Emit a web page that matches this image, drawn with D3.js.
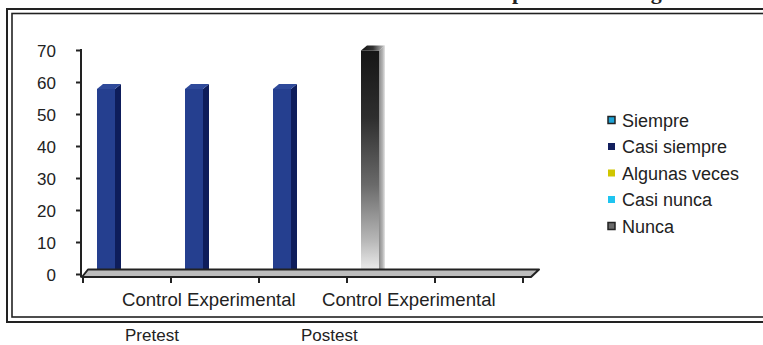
<!DOCTYPE html>
<html>
<head>
<meta charset="utf-8">
<script src="https://cdn.jsdelivr.net/npm/d3@7/dist/d3.min.js"></script>
<style>
  html, body { margin: 0; padding: 0; background: #ffffff; }
  svg { display: block; }
  text { font-family: "Liberation Sans", Arial, sans-serif; fill: #222; }
</style>
</head>
<body>
<svg id="chart" width="763" height="345"></svg>
<script>
// Category slots along the floor (the fifth slot is empty)
const categories = ["Control", "Experimental", "Control", "Experimental", ""];
const groups = ["Pretest", "Postest"];
const seriesNames = ["Siempre", "Casi siempre", "Algunas veces", "Casi nunca", "Nunca"];

// Values per series, one per category slot
const siempre      = [0, 0, 0, 0, 0];
const casiSiempre  = [58, 58, 58, 0, 0];
const algunasVeces = [0, 0, 0, 0, 0];
const casiNunca    = [0, 0, 0, 0, 0];
const nunca        = [0, 0, 0, 70, 0];

const yTicks = [0, 10, 20, 30, 40, 50, 60, 70];
const titleText = "Resultados del desempeño en la categoría";

const seriesValues = [siempre, casiSiempre, algunasVeces, casiNunca, nunca];
const rows = categories.map((c, i) => {
  const r = { idx: i };
  seriesNames.forEach((s, k) => { r[s] = seriesValues[k][i]; });
  return r;
});

const svg = d3.select("#chart");
const defs = svg.append("defs");

// Gradients for the grey/black column
const gFront = defs.append("linearGradient").attr("id", "nuncaFront")
  .attr("x1", 0).attr("y1", 0).attr("x2", 0).attr("y2", 1);
[[0, "#161616"], [0.3, "#2e2e2e"], [0.6, "#6a6a6a"], [0.85, "#b8b8b8"], [1, "#f4f4f4"]]
  .forEach(([o, c]) => gFront.append("stop").attr("offset", o).attr("stop-color", c));
const gSide = defs.append("linearGradient").attr("id", "nuncaSide")
  .attr("x1", 0).attr("y1", 0).attr("x2", 1).attr("y2", 0);
[[0, "#8a8a8a"], [0.6, "#b5b5b5"], [1, "#e6e6e6"]]
  .forEach(([o, c]) => gSide.append("stop").attr("offset", o).attr("stop-color", c));
const gTop = defs.append("linearGradient").attr("id", "nuncaTop")
  .attr("x1", 0).attr("y1", 0).attr("x2", 1).attr("y2", 0);
[[0, "#111"], [0.5, "#333"], [1, "#cfcfcf"]]
  .forEach(([o, c]) => gTop.append("stop").attr("offset", o).attr("stop-color", c));

const faceStyles = {
  "Siempre":       { front: "#2aa6d8", side: "#15607e", top: "#5cc0e6" },
  "Casi siempre":  { front: "#253f8f", side: "#0e1d5b", top: "#2f4a9a" },
  "Algunas veces": { front: "#d2c700", side: "#8d8500", top: "#e0d840" },
  "Casi nunca":    { front: "#1ec2ef", side: "#0f7fa0", top: "#60d4f4" },
  "Nunca":         { front: "url(#nuncaFront)", side: "url(#nuncaSide)", top: "url(#nuncaTop)" }
};
const swatch = {
  "Siempre":       { fill: "#1ea3d6", stroke: "#222" },
  "Casi siempre":  { fill: "#13205e", stroke: "none" },
  "Algunas veces": { fill: "#d0c600", stroke: "none" },
  "Casi nunca":    { fill: "#1ec4f0", stroke: "none" },
  "Nunca":         { fill: "#6a6a6a", stroke: "#222" }
};

// Scales
const x = d3.scaleBand().domain(d3.range(categories.length)).range([83, 523]).padding(0);
const y = d3.scaleLinear().domain([0, 70]).range([274.5, 50.5]);
const depthX = 6, depthY = -5;

// Double frame (extends past the right edge)
svg.append("rect").attr("x", 7).attr("y", 9).attr("width", 800).attr("height", 313)
  .attr("fill", "none").attr("stroke", "#222").attr("stroke-width", 2);
svg.append("rect").attr("x", 12).attr("y", 13.5).attr("width", 800).attr("height", 303.5)
  .attr("fill", "none").attr("stroke", "#222").attr("stroke-width", 1.6);

// Title (sits above the frame)
const title = svg.append("text")
  .attr("x", 0).attr("y", -1)
  .style("font-family", "'Liberation Serif', 'Times New Roman', serif")
  .style("font-weight", "bold").style("font-size", "22px")
  .text(titleText);
const pIdx = titleText.indexOf("p");
const px = title.node().getStartPositionOfChar(pIdx).x;
title.attr("x", 512 - px);

// Value axis
svg.append("line").attr("x1", 81).attr("x2", 81).attr("y1", y(70) - 1.5).attr("y2", 277.5)
  .attr("stroke", "#222").attr("stroke-width", 2);
svg.selectAll(".ytick").data(yTicks).join("line")
  .attr("x1", 76).attr("x2", 81).attr("y1", d => y(d)).attr("y2", d => y(d))
  .attr("stroke", "#222").attr("stroke-width", 2);
svg.selectAll(".ylab").data(yTicks).join("text")
  .attr("x", 56).attr("y", d => y(d) + 6)
  .attr("text-anchor", "end").style("font-size", "17px")
  .text(d => d);

// Stacked 3D columns
const stacked = d3.stack().keys(seriesNames)(rows);
const barOff = 14, barW = 18;
stacked.forEach(layer => {
  const st = faceStyles[layer.key];
  layer.forEach((seg, i) => {
    if (seg[1] - seg[0] <= 0) return;
    const x0 = x(i) + barOff, x1 = x0 + barW;
    const yt = y(seg[1]), yb = y(seg[0]);
    const g = svg.append("g");
    g.append("rect").attr("x", x0).attr("y", yt).attr("width", barW).attr("height", yb - yt)
      .attr("fill", st.front);
    g.append("path")
      .attr("d", `M${x1},${yt}L${x1 + depthX},${yt + depthY}L${x1 + depthX},${yb + depthY}L${x1},${yb}Z`)
      .attr("fill", st.side);
    g.append("path")
      .attr("d", `M${x0},${yt}L${x0 + depthX},${yt + depthY}L${x1 + depthX},${yt + depthY}L${x1},${yt}Z`)
      .attr("fill", st.top);
  });
});

// Floor slab
const fl = x.range()[0] - 1, fr = x.range()[1] + 8;
svg.append("path")
  .attr("d", `M${fl},277L${fl + 6},269.5L${fr + 8},269.5L${fr},277Z`)
  .attr("fill", "#bdbdbd").attr("stroke", "#222").attr("stroke-width", 2)
  .attr("stroke-linejoin", "round");

// Category tick marks
const bounds = d3.range(categories.length + 1).map(i => x.range()[0] + i * x.step());
svg.selectAll(".xtick").data(bounds).join("line")
  .attr("x1", d => d).attr("x2", d => d).attr("y1", 277).attr("y2", 283)
  .attr("stroke", "#222").attr("stroke-width", 2);

// Category labels
[[122, 0], [322, 2]].forEach(([lx, k]) => {
  svg.append("text").attr("x", lx).attr("y", 306).style("font-size", "18.6px")
    .text(categories[k] + " " + categories[k + 1]);
});
[[125, 0], [301, 1]].forEach(([gx, k]) => {
  svg.append("text").attr("x", gx).attr("y", 340.5).style("font-size", "17px")
    .text(groups[k]);
});

// Legend
const legY = [120, 146.5, 173, 199.5, 226];
seriesNames.forEach((s, i) => {
  const sw = swatch[s];
  svg.append("rect").attr("x", 608).attr("y", legY[i] - 3.5).attr("width", 7).attr("height", 7)
    .attr("fill", sw.fill).attr("stroke", sw.stroke).attr("stroke-width", sw.stroke === "none" ? 0 : 1.5);
  svg.append("text").attr("x", 622).attr("y", legY[i] + 6.5).style("font-size", "18px").text(s);
});
</script>
</body>
</html>
